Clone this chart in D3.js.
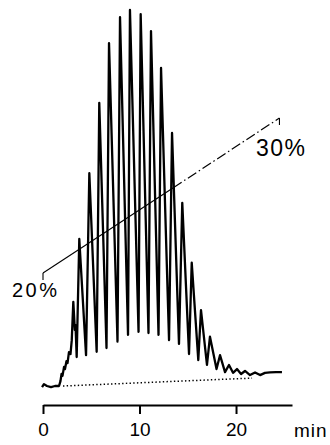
<!DOCTYPE html>
<html>
<head>
<meta charset="utf-8">
<script src="https://cdn.jsdelivr.net/npm/d3@7"></script>
<style>
html,body{margin:0;padding:0;background:#fff;}
svg{display:block;}
</style>
</head>
<body>
<svg id="chart" width="330" height="445"></svg>
<script>
// ---- data ----
const traceTime = [-0.10,0.10,0.41,0.83,1.24,1.66,1.81,1.92,2.02,2.18,2.28,2.43,2.54,2.69,2.85,2.98,
  3.14,3.30,3.37,3.49,3.76,4.46,4.80,5.56,5.83,6.58,6.84,7.72,7.98,8.81,9.01,9.90,10.12,10.93,11.19,
  11.97,12.23,13.06,13.37,14.09,14.43,15.13,15.41,16.09,16.37,16.99,17.30,17.98,18.34,18.86,19.27,
  19.69,20.10,20.52,20.93,21.45,21.97,22.49,23.00,23.52,24.14,24.76];
const traceSignal = [-0.3,0.5,0.0,-0.3,0.0,0.0,1.3,3.2,2.7,5.1,4.5,6.6,6.1,9.0,8.5,12.2,
  22.4,14.9,16.2,7.7,39.1,8.2,56.6,9.1,75.3,10.1,91.2,11.8,98.1,13.6,100,14.4,98.9,14.1,94.4,
  13.6,84.6,12.2,67.3,11.2,48.7,8.5,32.8,6.9,20.2,5.6,13.1,4.5,8.2,3.7,5.6,
  3.5,4.5,3.2,4.0,2.9,3.6,2.9,3.5,3.6,3.7,3.7];
const baselineTime = [2.07, 21.66];
const baselineSignal = [0.0, 2.1];
const gradTime = [0, 13.5, 24.5];
const gradPct = [20, 25.5, 30];
const gradLabels = ["20%", "30%"];
const xTicks = [0, 10, 20];
const xUnit = "min";

// ---- scales ----
const svg = d3.select("#chart");
const x = d3.scaleLinear().domain([0, 25.8]).range([43, 292]);
const y = d3.scaleLinear().domain([0, 100]).range([386, 10]);
const yg = d3.scaleLinear().domain([20, 30]).range([273, 118]);

// ---- gradient line ----
const gLine = d3.line().x(d => x(d[0])).y(d => yg(d[1]));
const grad = gradTime.map((t, i) => [t, gradPct[i]]);
svg.append("path").datum(grad.slice(0, 2))
  .attr("fill", "none").attr("stroke", "#000").attr("stroke-width", 1.1)
  .attr("d", gLine);
svg.append("path").datum(grad.slice(1))
  .attr("fill", "none").attr("stroke", "#000").attr("stroke-width", 1.2)
  .attr("stroke-dasharray", "10,3,1.5,3")
  .attr("d", gLine);
// end hooks
[[gradTime[0], gradPct[0]], [gradTime[2], gradPct[2]]].forEach(d => {
  svg.append("line")
    .attr("x1", x(d[0])).attr("x2", x(d[0]))
    .attr("y1", yg(d[1])).attr("y2", yg(d[1]) + 7)
    .attr("stroke", "#000").attr("stroke-width", 1.1);
});

// ---- chromatogram trace ----
const trace = traceTime.map((t, i) => [t, traceSignal[i]]);
svg.append("path")
  .datum(trace)
  .attr("fill", "none")
  .attr("stroke", "#000")
  .attr("stroke-width", 2.3)
  .attr("stroke-linejoin", "round")
  .attr("d", d3.line().x(d => x(d[0])).y(d => y(d[1])));

// ---- dotted baseline ----
const base = baselineTime.map((t, i) => [t, baselineSignal[i]]);
svg.append("path")
  .datum(base)
  .attr("fill", "none")
  .attr("stroke", "#000")
  .attr("stroke-width", 1.5)
  .attr("stroke-dasharray", "1.4,2.3")
  .attr("d", d3.line().x(d => x(d[0])).y(d => y(d[1])));

// gradient labels
svg.append("text").text(gradLabels[0])
  .attr("x", 12).attr("y", 297)
  .attr("font-family", "Liberation Sans, Arial, sans-serif")
  .attr("font-size", 20).attr("letter-spacing", 2.5).attr("fill", "#000");
svg.append("text").text(gradLabels[1])
  .attr("x", 256).attr("y", 156)
  .attr("font-family", "Liberation Sans, Arial, sans-serif")
  .attr("font-size", 23).attr("letter-spacing", 1.5).attr("fill", "#000");

// ---- x axis ----
const axisG = svg.append("g").attr("transform", "translate(0,405)");
const axis = d3.axisBottom(x).tickValues(xTicks).tickSize(9).tickPadding(9).tickSizeOuter(0);
axisG.call(axis);
axisG.select(".domain").attr("stroke", "#000").attr("stroke-width", 2);
axisG.selectAll(".tick line").attr("stroke", "#000").attr("stroke-width", 2);
axisG.selectAll(".tick text")
  .attr("font-family", "Liberation Sans Narrow, Arial Narrow, Liberation Sans, sans-serif")
  .attr("font-size", 19).attr("fill", "#000");
svg.append("text").text(xUnit)
  .attr("x", 294).attr("y", 437)
  .attr("font-family", "Liberation Sans, Arial, sans-serif")
  .attr("font-size", 19).attr("letter-spacing", 1).attr("fill", "#000");
</script>
</body>
</html>
